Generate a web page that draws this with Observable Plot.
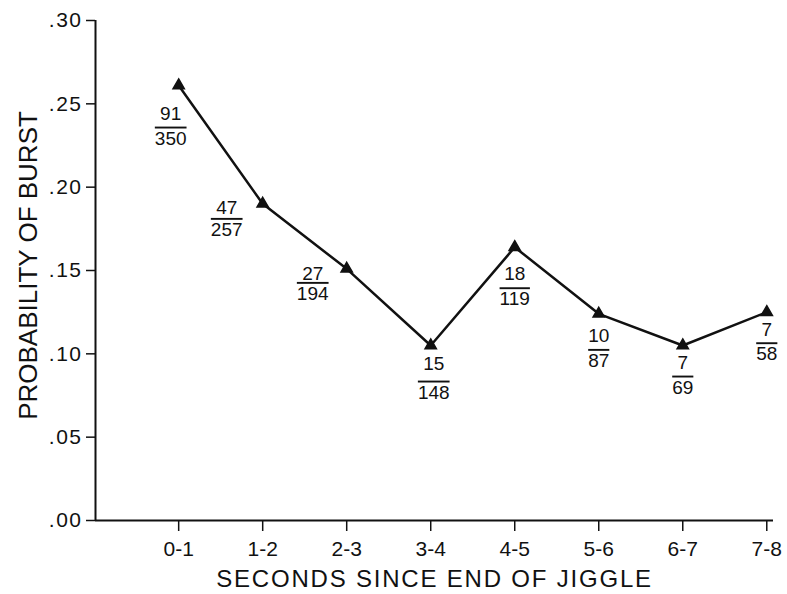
<!DOCTYPE html>
<html>
<head>
<meta charset="utf-8">
<script src="https://cdn.jsdelivr.net/npm/d3@7"></script>
<script src="https://cdn.jsdelivr.net/npm/@observablehq/plot@0.6"></script>
<style>
  html, body { margin: 0; padding: 0; background: #fff; }
  #chart { width: 787px; height: 594px; }
</style>
</head>
<body>
<div id="chart"></div>
<script>
// ---- data ----
const categories = ["0-1", "1-2", "2-3", "3-4", "4-5", "5-6", "6-7", "7-8"];
const probability = [0.261, 0.190, 0.151, 0.105, 0.164, 0.124, 0.105, 0.125];
const bursts = [91, 47, 27, 15, 18, 10, 7, 7];
const trials = [350, 257, 194, 148, 119, 87, 69, 58];
const yTicks = [0, 0.05, 0.10, 0.15, 0.20, 0.25, 0.30];

// ---- label layout (pixel offsets of each fraction from its point) ----
const labelDx = [-8, -36, -34, 3, 0, 0, 0, 0];
const numDy = [28, 4, 5, 18, 27, 22, 17, 18];
const denDy = [53, 26, 25, 47, 52, 47, 42, 42];

const data = categories.map((c, i) => ({i, c, p: probability[i], num: String(bursts[i]), den: String(trials[i])}));
const xDomain = [-0.99, 7.08];
const font = "'Liberation Sans', Arial, Helvetica, sans-serif";

const fractionMarks = data.flatMap((d, k) => [
  Plot.text([d], {x: "i", y: "p", text: "num", dx: labelDx[k], dy: numDy[k], fontSize: 19, fill: "#111"}),
  Plot.text([d], {x: "i", y: "p", text: "den", dx: labelDx[k], dy: denDy[k], fontSize: 19, fill: "#111", ariaDescription: "denominator"})
]);

const chart = Plot.plot({
  width: 787,
  height: 594,
  marginLeft: 95,
  marginRight: 14,
  marginTop: 20,
  marginBottom: 74,
  style: {fontFamily: font, color: "#111", background: "#fff", overflow: "visible"},
  x: {type: "linear", domain: xDomain},
  y: {type: "linear", domain: [0, 0.30]},
  marks: [
    Plot.axisY(yTicks, {tickSize: 9, tickPadding: 4, fontSize: 21, strokeWidth: 1.5, label: null,
      ariaDescription: "ytick", tickFormat: d => d.toFixed(2).replace(/^0/, "")}),
    Plot.axisX(d3.range(categories.length), {tickSize: 11, tickPadding: 10, fontSize: 21, strokeWidth: 1.5, label: null,
      tickFormat: i => categories[i]}),
    Plot.ruleY([0], {stroke: "#111", strokeWidth: 2}),
    Plot.ruleX([xDomain[0]], {stroke: "#111", strokeWidth: 2}),
    Plot.line(data, {x: "i", y: "p", stroke: "#111", strokeWidth: 2.5}),
    Plot.dot(data, {x: "i", y: "p", symbol: "triangle", r: 4.2, fill: "#111", stroke: "#111"}),
    ...fractionMarks,
    Plot.text(["SECONDS SINCE END OF JIGGLE"], {text: d => d, frameAnchor: "bottom", lineAnchor: "middle", textAnchor: "middle", dy: 59, fontSize: 24, fill: "#111", ariaDescription: "xlabel"}),
    Plot.text(["PROBABILITY OF BURST"], {text: d => d, frameAnchor: "left", textAnchor: "middle", lineAnchor: "middle", dx: -67, dy: -5, rotate: -90, fontSize: 26, fill: "#111"})
  ]
});

d3.select(chart).selectAll('g[aria-description="denominator"] text')
  .style("text-decoration", "overline")
  .style("text-decoration-thickness", "2px");
d3.select(chart).selectAll('g[aria-description="xlabel"] text')
  .style("letter-spacing", "1.8px");
d3.select(chart).selectAll('g[aria-description="ytick"] text')
  .style("letter-spacing", "1.5px");

document.getElementById("chart").append(chart);
</script>
</body>
</html>
